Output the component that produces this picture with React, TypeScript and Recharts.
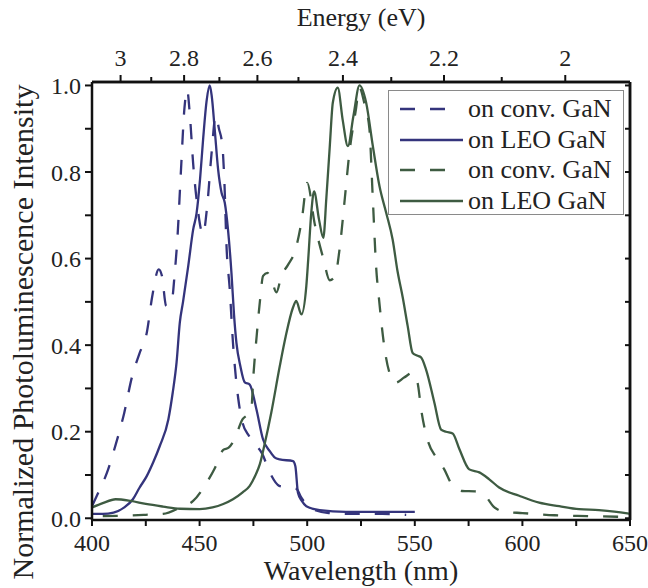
import { LineChart, Line, XAxis, YAxis, Legend, Label, ReferenceLine } from "recharts"

const FONT = '"Liberation Serif", "Times New Roman", serif'
const BLUE = "#34347c"
const GREEN = "#3e5b42"
const INK = "#111"
const HC = 1239.84 // eV*nm

// wavelength (nm) / normalized intensity
const convBlueNm = [400, 403, 407, 411, 415, 418.5, 422, 425.5, 428, 431, 432.5, 434.5, 437, 438.5, 439.6, 441.3, 443, 444.2, 445.5, 447, 449, 451.6, 453.5, 455.5, 457.5, 459, 460.6, 461.5, 462.5, 464, 465.5, 468, 470, 473, 476, 479, 482.6, 487, 490, 495, 497, 500, 503, 510, 520, 535, 546]
const convBlueI = [0.028, 0.06, 0.106, 0.17, 0.244, 0.325, 0.38, 0.43, 0.513, 0.575, 0.56, 0.49, 0.5, 0.57, 0.64, 0.8, 0.95, 0.99, 0.93, 0.82, 0.72, 0.656, 0.72, 0.84, 0.93, 0.9, 0.86, 0.78, 0.63, 0.53, 0.406, 0.275, 0.22, 0.19, 0.17, 0.15, 0.106, 0.075, 0.072, 0.068, 0.05, 0.03, 0.02, 0.012, 0.01, 0.01, 0.008]

const leoBlueNm = [400, 405, 410, 415, 419, 422, 425.5, 428.5, 431.5, 435.5, 437.5, 439.3, 440.8, 442.3, 444.7, 447, 448.6, 450.2, 451.7, 453.3, 454.7, 455.6, 457, 458.6, 460.2, 461.7, 463.2, 464.8, 466, 467.1, 469, 471, 473.3, 476.4, 479.5, 482.6, 485, 487.2, 493.4, 494.5, 495.7, 497.5, 499.6, 505.8, 518, 550]
const leoBlueI = [0.01, 0.01, 0.013, 0.025, 0.044, 0.07, 0.098, 0.13, 0.167, 0.229, 0.29, 0.36, 0.452, 0.5, 0.582, 0.667, 0.705, 0.783, 0.88, 0.966, 1.0, 0.977, 0.9, 0.806, 0.752, 0.729, 0.667, 0.567, 0.47, 0.406, 0.35, 0.314, 0.309, 0.252, 0.182, 0.155, 0.14, 0.136, 0.132, 0.12, 0.059, 0.04, 0.028, 0.019, 0.015, 0.015]

const convGreenNm = [405, 415, 425, 433, 441, 447, 453, 457, 461, 463.5, 466, 470, 472.5, 474, 475, 476.5, 478, 479.5, 481.5, 483.5, 485.7, 488, 491, 494.5, 497.5, 500, 503.5, 507.5, 510.5, 513, 515, 517.5, 519.5, 522.5, 524.3, 526.5, 528.9, 530.5, 532, 533.5, 535.9, 539, 541, 545, 549, 551.3, 553, 556, 560, 563.7, 567, 572, 578, 583, 587, 592, 600, 615, 630, 650]
const convGreenI = [0.005, 0.006, 0.008, 0.01, 0.025, 0.04, 0.08, 0.115, 0.158, 0.163, 0.18, 0.229, 0.24, 0.25, 0.33, 0.42, 0.5, 0.56, 0.567, 0.55, 0.522, 0.56, 0.585, 0.62, 0.69, 0.775, 0.68, 0.6, 0.55, 0.56, 0.62, 0.74, 0.84, 0.94, 0.995, 0.96, 0.9, 0.737, 0.583, 0.5, 0.394, 0.325, 0.313, 0.325, 0.336, 0.313, 0.25, 0.18, 0.14, 0.113, 0.08, 0.063, 0.062, 0.05, 0.025, 0.015, 0.012, 0.007, 0.005, 0.003]

const leoGreenNm = [400, 405, 411, 418, 425, 433, 441, 450, 456, 461, 465.5, 470, 473.3, 476, 478, 480.2, 483.3, 487.2, 490, 493.4, 494.9, 497.3, 499.6, 500.5, 501.9, 503.2, 505.5, 507.5, 508.9, 510.5, 511.9, 514.2, 516.5, 518.9, 521.5, 524.3, 527.4, 530.5, 533.6, 536.7, 539.7, 542, 544.4, 546.7, 549, 551, 552.9, 555.2, 559.1, 562.2, 564.5, 567.6, 570.7, 575.3, 580, 584.6, 589.2, 598.5, 607.8, 617.1, 626.3, 635.6, 648, 650]
const leoGreenI = [0.025, 0.035, 0.044, 0.04, 0.033, 0.027, 0.022, 0.021, 0.025, 0.033, 0.044, 0.06, 0.075, 0.1, 0.125, 0.171, 0.244, 0.35, 0.42, 0.487, 0.502, 0.471, 0.537, 0.6, 0.706, 0.755, 0.69, 0.648, 0.74, 0.86, 0.96, 0.995, 0.92, 0.86, 0.93, 1.0, 0.96, 0.86, 0.767, 0.706, 0.644, 0.57, 0.51, 0.444, 0.382, 0.376, 0.372, 0.344, 0.267, 0.205, 0.2, 0.196, 0.16, 0.113, 0.106, 0.09, 0.071, 0.052, 0.036, 0.028, 0.021, 0.019, 0.012, 0.01]

const wavelengthTicks = [400, 425, 450, 475, 500, 525, 550, 575, 600, 625, 650]
const energyTicks = [3.0, 2.9, 2.8, 2.7, 2.6, 2.5, 2.4, 2.3, 2.2, 2.1, 2.0]
const intensityTicks = [0, 0.1, 0.2, 0.3, 0.4, 0.5, 0.6, 0.7, 0.8, 0.9, 1.0]
const Y_DOMAIN = [-0.004, 1.008]

const zip = (nm: number[], I: number[]) => nm.map((x, i) => ({ nm: x, I: I[i] }))

// both x axes share the nm domain (and both y axes the intensity domain),
// so the green pair is bound to the top/right axes to get those drawn
const series = [
  { name: "on conv. GaN", color: BLUE, dash: "15 15", data: zip(convBlueNm, convBlueI), x: "bottom", y: "left" },
  { name: "on LEO GaN", color: BLUE, dash: undefined, data: zip(leoBlueNm, leoBlueI), x: "bottom", y: "left" },
  { name: "on conv. GaN", color: GREEN, dash: "15 15", data: zip(convGreenNm, convGreenI), x: "top", y: "right" },
  { name: "on LEO GaN", color: GREEN, dash: undefined, data: zip(leoGreenNm, leoGreenI), x: "top", y: "right" },
]

const energyLabel = (nm: number) => {
  const e = Math.round((HC / nm) * 10) / 10
  return Math.round(e * 10) % 2 === 0 ? String(e) : ""
}

// top axis: outward tick marks (longer on labelled ones) + energy label
function EnergyTick(props: any) {
  const { x, y, payload } = props
  const label = energyLabel(payload.value)
  const axisY = y + 16
  return (
    <g>
      <line x1={x} x2={x} y1={axisY} y2={axisY - (label ? 7 : 5)} stroke={INK} strokeWidth={2} />
      <text x={x} y={y} textAnchor="middle" fill="#222" fontSize={24} fontFamily={FONT}>
        {label}
      </text>
    </g>
  )
}

// right axis: short inward tick marks only
function RightTick(props: any) {
  const { x, y } = props
  return <line x1={x} x2={x - 5} y1={y} y2={y} stroke={INK} strokeWidth={2} />
}

function LegendBox() {
  return (
    <div
      style={{
        position: "relative",
        width: 236,
        height: 125,
        boxSizing: "border-box",
        border: "1px solid #8a8a8a",
        background: "#fff",
        fontFamily: FONT,
        fontSize: 26,
        color: "#222",
      }}
    >
      {series.map((s, i) => (
        <div key={i} style={{ position: "absolute", left: 11, top: 3 + i * 30.7, height: 30, display: "flex", alignItems: "center" }}>
          <svg width={63} height={6}>
            <line x1={0} y1={3} x2={s.dash ? 46 : 63} y2={3} stroke={s.color} strokeWidth={2.5} strokeDasharray={s.dash} />
          </svg>
          <span style={{ marginLeft: 5, whiteSpace: "nowrap", lineHeight: "30px" }}>{s.name}</span>
        </div>
      ))}
    </div>
  )
}

export default function App() {
  return (
    <div style={{ position: "absolute", left: 0, top: 0 }}>
      <LineChart width={648} height={588} margin={{ top: 52, right: 13, bottom: 38, left: 52 }}>
        <XAxis
          xAxisId="bottom"
          type="number"
          dataKey="nm"
          domain={[400, 650]}
          allowDataOverflow
          ticks={wavelengthTicks}
          interval={0}
          tickFormatter={(v) => (v % 50 === 0 ? String(v) : "")}
          height={30}
          tickSize={6}
          tickMargin={8}
          tick={{ fill: "#222", fontSize: 24, fontFamily: FONT }}
          stroke={INK}
          axisLine={{ stroke: INK, strokeWidth: 2.5 }}
          tickLine={{ stroke: INK, strokeWidth: 2 }}
        >
          <Label value="Wavelength (nm)" position="bottom" offset={10} fill="#222" fontSize={28} fontFamily={FONT} />
        </XAxis>
        <XAxis
          xAxisId="top"
          orientation="top"
          type="number"
          dataKey="nm"
          domain={[400, 650]}
          allowDataOverflow
          ticks={energyTicks.map((e) => HC / e)}
          interval={0}
          height={30}
          tickSize={6}
          tickMargin={10}
          tick={<EnergyTick />}
          tickLine={false}
          stroke={INK}
          axisLine={{ stroke: INK, strokeWidth: 2.5 }}
        >
          <Label value="Energy (eV)" position="top" offset={26} fill="#222" fontSize={26} fontFamily={FONT} />
        </XAxis>
        <YAxis
          yAxisId="left"
          type="number"
          domain={Y_DOMAIN}
          allowDataOverflow
          ticks={intensityTicks}
          interval={0}
          tickFormatter={(v) => (Math.round(v * 10) % 2 === 0 ? v.toFixed(1) : "")}
          width={40}
          tickSize={7}
          tickMargin={4}
          tick={{ fill: "#222", fontSize: 24, fontFamily: FONT }}
          stroke={INK}
          axisLine={{ stroke: INK, strokeWidth: 2.5 }}
          tickLine={{ stroke: INK, strokeWidth: 2 }}
        >
          <Label
            content={() => (
              <text
                x={22}
                y={332}
                transform="rotate(-90 22 332)"
                textAnchor="middle"
                dominantBaseline="central"
                fill="#222"
                fontSize={30}
                fontFamily={FONT}
              >
                Normalized Photoluminescence Intensity
              </text>
            )}
          />
        </YAxis>
        <YAxis
          yAxisId="right"
          orientation="right"
          type="number"
          domain={Y_DOMAIN}
          allowDataOverflow
          ticks={intensityTicks}
          interval={0}
          width={5}
          tickSize={0}
          tickMargin={0}
          tick={<RightTick />}
          tickLine={false}
          stroke={INK}
          axisLine={{ stroke: INK, strokeWidth: 2.5 }}
        />
        {/* plot frame on the top and right edges */}
        <ReferenceLine xAxisId="bottom" yAxisId="left" y={Y_DOMAIN[1]} stroke={INK} strokeWidth={2.5} />
        <ReferenceLine xAxisId="bottom" yAxisId="left" x={650} stroke={INK} strokeWidth={2.5} />
        {series.map((s, i) => (
          <Line
            key={i}
            xAxisId={s.x}
            yAxisId={s.y}
            data={s.data}
            dataKey="I"
            name={s.name}
            type="monotone"
            stroke={s.color}
            strokeWidth={2.3}
            strokeDasharray={s.dash}
            dot={false}
            isAnimationActive={false}
          />
        ))}
        <Legend
          layout="vertical"
          align="center"
          verticalAlign="middle"
          content={() => <LegendBox />}
          wrapperStyle={{ left: 388, top: 90, width: 236, height: 125 }}
        />
      </LineChart>
    </div>
  )
}
